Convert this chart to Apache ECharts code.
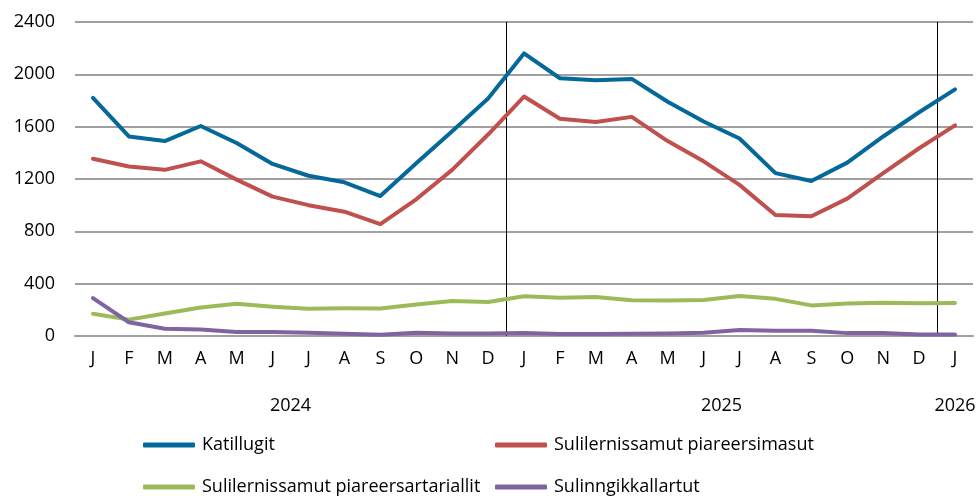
<!DOCTYPE html>
<html>
<head>
<meta charset="utf-8">
<script src="https://cdn.jsdelivr.net/npm/echarts@6/dist/echarts.min.js"></script>
<style>
  html, body { margin: 0; padding: 0; background: #fff; }
  #chart { width: 980px; height: 496px; }
</style>
</head>
<body>
<div id="chart"></div>
<script>
const months = ['J','F','M','A','M','J','J','A','S','O','N','D','J','F','M','A','M','J','J','A','S','O','N','D','J']
const years = [2024,2024,2024,2024,2024,2024,2024,2024,2024,2024,2024,2024,2025,2025,2025,2025,2025,2025,2025,2025,2025,2025,2025,2025,2026]

const katillugit = [1820,1525,1490,1605,1475,1315,1225,1175,1070,1320,1565,1815,2160,1970,1955,1965,1790,1640,1510,1245,1185,1325,1525,1710,1885]
const piareersimasut = [1355,1295,1270,1335,1195,1065,1000,950,855,1045,1270,1540,1830,1660,1635,1675,1490,1335,1155,925,915,1050,1245,1435,1610]
const piareersartariallit = [170,125,172,218,246,224,208,212,210,240,268,260,304,292,298,274,272,276,306,284,234,248,255,250,252]
const sulinngikkallartut = [290,105,55,50,30,30,24,17,10,25,20,20,22,16,16,18,20,25,46,40,40,22,22,12,12]

const yTicks = [0,400,800,1200,1600,2000,2400]

const colors = ['#05689a','#c0504d','#9bbb59','#8064a2']
const font = '"Open Sans", sans-serif'
const fs = 18

// year boundaries (between last month of a year and first of the next)
const dividers = []
for (let i = 1; i < years.length; i++) {
    if (years[i] !== years[i-1]) dividers.push(i - 0.5)
}

const chart = echarts.init(document.getElementById('chart'))

const mkSeries = (name, data, i) => ({
    name, type: 'line', data,
    symbol: 'none',
    lineStyle: { width: 4, color: colors[i], cap: 'round', join: 'round' },
    itemStyle: { color: colors[i] },
    z: 5
})

const legendBase = {
    orient: 'vertical',
    top: 436,
    padding: 0,
    itemWidth: 52, itemHeight: 5, itemGap: 24,
    icon: 'roundRect',
    textStyle: { color: '#000', fontFamily: font, fontSize: fs, padding: [0, 0, 0, 2] }
}

const option = {
    animation: false,
    grid: { left: 75, right: 7, top: 22, bottom: 160 },
    xAxis: [{
        type: 'category',
        data: months,
        boundaryGap: true,
        axisLine: { show: true, lineStyle: { color: '#a0a0a0', width: 2 } },
        axisTick: { show: false },
        axisLabel: { color: '#000', fontFamily: font, fontSize: fs, margin: 14, interval: 0 }
    }, {
        type: 'value',
        min: -0.5,
        max: months.length - 0.5,
        show: false
    }],
    yAxis: {
        type: 'value',
        min: yTicks[0],
        max: yTicks[yTicks.length - 1],
        interval: 400,
        axisLine: { show: false },
        axisTick: { show: false },
        splitLine: { lineStyle: { color: '#a0a0a0', width: 2 } },
        axisLabel: { color: '#000', fontFamily: font, fontSize: fs, margin: 20, formatter: v => String(v) }
    },
    legend: [
        Object.assign({ data: ['Katillugit', 'Sulilernissamut piareersartariallit'], left: 143 }, legendBase),
        Object.assign({ data: ['Sulilernissamut piareersimasut', 'Sulinngikkallartut'], left: 495 }, legendBase)
    ],
    series: [
        mkSeries('Katillugit', katillugit, 0),
        mkSeries('Sulilernissamut piareersimasut', piareersimasut, 1),
        mkSeries('Sulilernissamut piareersartariallit', piareersartariallit, 2),
        mkSeries('Sulinngikkallartut', sulinngikkallartut, 3),
        {
            type: 'line', xAxisIndex: 1, data: [],
            markLine: {
                symbol: 'none', silent: true, label: { show: false },
                lineStyle: { color: '#000', width: 1, type: 'solid' },
                data: dividers.map(v => ({ xAxis: v }))
            },
            z: 10
        }
    ]
}
chart.setOption(option)

// year labels centred under each year's months
const groups = {}
years.forEach((y, i) => { (groups[y] = groups[y] || []).push(i) })
const yearText = Object.keys(groups).map(y => {
    const idx = groups[y]
    const a = chart.convertToPixel({ xAxisIndex: 1 }, idx[0])
    const b = chart.convertToPixel({ xAxisIndex: 1 }, idx[idx.length - 1])
    return {
        type: 'text',
        x: (a + b) / 2, y: 406,
        style: { text: String(y), fill: '#000', font: fs + 'px ' + font, align: 'center', verticalAlign: 'middle' }
    }
})
chart.setOption({ graphic: yearText })
</script>
</body>
</html>
